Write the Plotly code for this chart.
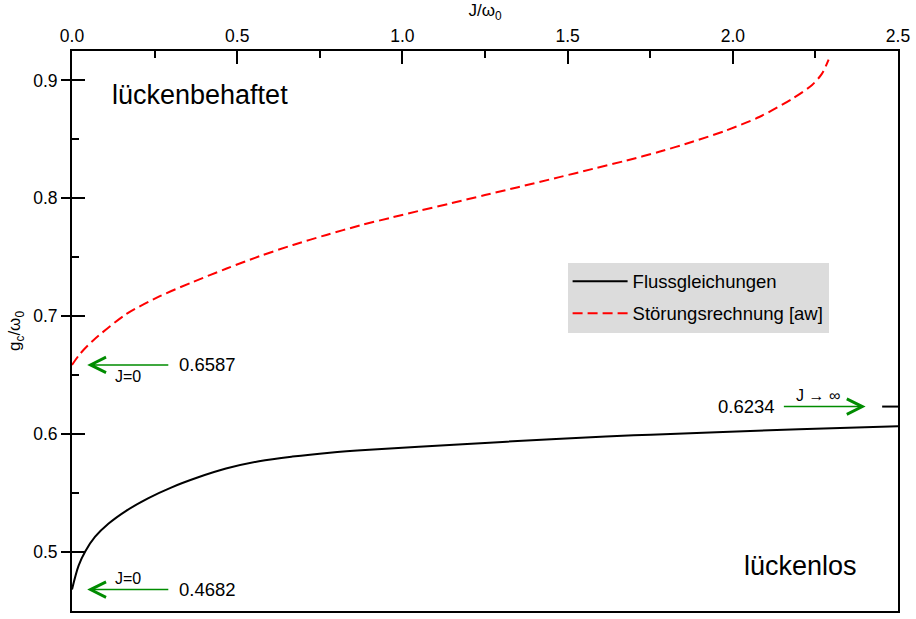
import plotly.graph_objects as go

# Critical coupling g_c/omega_0 versus J/omega_0
J_flow = [0.0, 0.02, 0.04, 0.07, 0.11, 0.165, 0.23, 0.30, 0.38, 0.466, 0.566,
          0.667, 0.78, 0.90, 1.05, 1.25, 1.45, 1.70, 1.95, 2.20, 2.50]
g_flow = [0.4682, 0.4885, 0.5005, 0.513, 0.524, 0.5352, 0.5456, 0.5547, 0.5632, 0.5708, 0.577,
          0.581, 0.5843, 0.5868, 0.5893, 0.5926, 0.5957, 0.599, 0.6017, 0.6042, 0.6067]

J_pert = [0.0, 0.024, 0.064, 0.165, 0.266, 0.367, 0.468, 0.568, 0.669, 0.770,
          0.871, 0.971, 1.052, 1.15, 1.25, 1.35, 1.475, 1.576, 1.677, 1.777,
          1.878, 1.979, 2.08, 2.18, 2.24, 2.27, 2.29]
g_pert = [0.6587, 0.668, 0.6795, 0.702, 0.717, 0.7292, 0.7405, 0.751, 0.7605, 0.769,
          0.777, 0.784, 0.7895, 0.796, 0.8028, 0.8095, 0.818, 0.825, 0.832, 0.8395,
          0.848, 0.8575, 0.869, 0.8845, 0.8962, 0.9058, 0.9176]

# Limiting values
g_flow_J0 = 0.4682
g_pert_J0 = 0.6587
g_flow_Jinf = 0.6234

series_names = ["Flussgleichungen", "Störungsrechnung [aw]"]

X_RANGE = [0.0, 2.5]
Y_RANGE = [0.45, 0.925]
FONT = "Liberation Sans, Arial, sans-serif"
GREEN = "rgb(0,140,0)"

fig = go.Figure()
fig.add_trace(go.Scatter(
    x=J_flow, y=g_flow, mode="lines", name=series_names[0], legendgroup="flow",
    line=dict(color="black", width=2, shape="spline", smoothing=1.0),
))
fig.add_trace(go.Scatter(
    x=J_pert, y=g_pert, mode="lines", name=series_names[1], legendgroup="pert",
    line=dict(color="red", width=2, dash="10px,5px", shape="spline", smoothing=0.8),
))
# invisible trace carrying the inside ticks of the left axis
fig.add_trace(go.Scatter(x=[None], y=[None], yaxis="y2", showlegend=False,
                         hoverinfo="skip"))

annotations = []

def left_arrow(g, label_above):
    annotations.append(dict(
        x=0.046, y=g, ax=0.296, ay=g, xref="x", yref="y", axref="x", ayref="y",
        text="", showarrow=True, arrowhead=5, arrowsize=1.9, arrowwidth=1.6,
        arrowcolor=GREEN, standoff=0, startstandoff=0,
    ))
    annotations.append(dict(
        x=0.318, y=g, xref="x", yref="y", text=f"{g:.4f}", showarrow=False,
        xanchor="left", yanchor="middle", font=dict(size=18.5, color="black"),
    ))
    annotations.append(dict(
        x=0.17, y=g, xref="x", yref="y", text="J=0", showarrow=False,
        xanchor="center", yanchor="bottom" if label_above else "top",
        yshift=1 if label_above else -1,
        font=dict(size=16, color="black"),
    ))

left_arrow(g_pert_J0, label_above=False)
left_arrow(g_flow_J0, label_above=True)

# J -> infinity limit of the flow-equation result
annotations.append(dict(
    x=2.402, y=g_flow_Jinf, ax=2.150, ay=g_flow_Jinf,
    xref="x", yref="y", axref="x", ayref="y",
    text="", showarrow=True, arrowhead=5, arrowsize=1.9, arrowwidth=1.6,
    arrowcolor=GREEN, standoff=0, startstandoff=0,
))
annotations.append(dict(
    x=2.133, y=g_flow_Jinf, xref="x", yref="y", text=f"{g_flow_Jinf:.4f}",
    showarrow=False, xanchor="right", yanchor="middle",
    font=dict(size=18.5, color="black"),
))
annotations.append(dict(
    x=2.258, y=g_flow_Jinf, xref="x", yref="y", text="J \u2192 \u221e",
    showarrow=False, xanchor="center", yanchor="bottom", yshift=1,
    font=dict(size=16, color="black"),
))

# phase labels
annotations.append(dict(
    x=0.115, y=0.888, xref="x", yref="y", text="lückenbehaftet",
    showarrow=False, xanchor="left", yanchor="middle",
    font=dict(size=27, color="black"),
))
annotations.append(dict(
    x=2.028, y=0.488, xref="x", yref="y", text="lückenlos",
    showarrow=False, xanchor="left", yanchor="middle",
    font=dict(size=27, color="black"),
))

shapes = [dict(
    type="line", xref="x", yref="y", x0=2.452, x1=X_RANGE[1],
    y0=g_flow_Jinf, y1=g_flow_Jinf, line=dict(color="black", width=2),
)]

fig.update_layout(
    width=916, height=619,
    margin=dict(l=72, r=17, t=51, b=6),
    paper_bgcolor="white", plot_bgcolor="white",
    font=dict(family=FONT, color="black", size=17.5),
    showlegend=True,
    legend=dict(
        x=0.6, y=0.622, xanchor="left", yanchor="top",
        bgcolor="#dcdcdc", borderwidth=0, font=dict(size=18.5),
        itemwidth=55, tracegroupgap=5,
    ),
    xaxis=dict(
        range=X_RANGE, side="top", showgrid=False, zeroline=False,
        showline=True, linecolor="black", linewidth=2, mirror=True,
        ticks="inside", ticklen=13, tickwidth=2, tickcolor="black",
        tick0=0, dtick=0.5, tickformat=".1f",
        minor=dict(ticks="inside", ticklen=7, tickwidth=2, tickcolor="black",
                   dtick=0.25, showgrid=False),
        title=dict(text="J/ω<sub>0</sub>", standoff=5, font=dict(size=17)),
        tickfont=dict(size=17.5),
    ),
    yaxis=dict(
        range=Y_RANGE, showgrid=False, zeroline=False,
        showline=True, linecolor="black", linewidth=2, mirror=True,
        ticks="outside", ticklen=9, tickwidth=2, tickcolor="black",
        tick0=0.5, dtick=0.1, tickformat=".1f",
        title=dict(text="g<sub>c</sub>/ω<sub>0</sub>", standoff=8, font=dict(size=17)),
        tickfont=dict(size=17.5),
    ),
    yaxis2=dict(
        range=Y_RANGE, overlaying="y", side="left", anchor="x",
        showgrid=False, zeroline=False, showline=False, showticklabels=False,
        ticks="inside", ticklen=13, tickwidth=2, tickcolor="black",
        tick0=0.5, dtick=0.1,
        minor=dict(ticks="inside", ticklen=7, tickwidth=2, tickcolor="black",
                   dtick=0.05, showgrid=False),
    ),
    annotations=annotations,
    shapes=shapes,
)

fig.write_html("out.html")
